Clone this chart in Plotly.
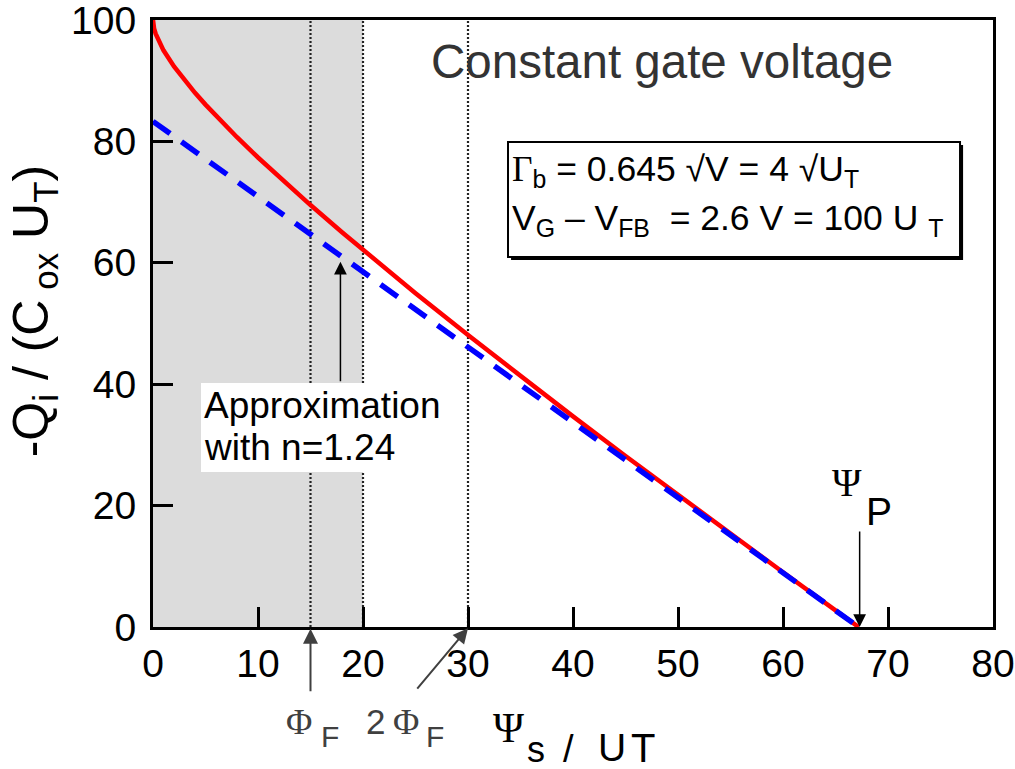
import plotly.graph_objects as go

# Inversion charge at constant gate voltage (normalised units)
psi_exact = [0, 0.05, 0.1, 0.25, 0.5, 1, 2, 3, 4, 5, 6, 8, 10, 12, 15, 18, 20,
             25, 30, 35, 40, 45, 50, 55, 60, 65, 67.2]
q_exact = [100, 99.06, 98.64, 97.75, 96.67, 95.0, 92.34, 90.07, 88.0, 86.06, 84.2,
           80.69, 77.35, 74.14, 69.51, 65.03, 62.11, 55.0, 48.09, 41.34, 34.7,
           28.17, 21.72, 15.34, 9.02, 2.75, 0.0]

# Linear approximation with slope factor n = 1.24
psi_approx = [0.0, 67.2]
q_approx = [83.3, 0.0]

x_ticks = [0, 10, 20, 30, 40, 50, 60, 70, 80]
y_ticks = [0, 20, 40, 60, 80, 100]

phi_f = 15
two_phi_f = 30
shade_end = 20
psi_p = 67.3

SANS = "Liberation Sans, Arial, sans-serif"
SERIF = "Liberation Serif, Times New Roman, serif"
GREY = "#404040"

fig = go.Figure()
fig.add_trace(go.Scatter(x=psi_exact, y=q_exact, mode="lines",
                         line=dict(color="#ff0000", width=4.5),
                         hoverinfo="skip", showlegend=False))
fig.add_trace(go.Scatter(x=psi_approx, y=q_approx, mode="lines",
                         line=dict(color="#0000ff", width=5.5, dash="21px,14px"),
                         hoverinfo="skip", showlegend=False))

shapes = [
    dict(type="rect", xref="x", yref="y", x0=0, x1=shade_end, y0=0, y1=100,
         fillcolor="#dcdcdc", line=dict(width=0), layer="below"),
]
for v in (phi_f, shade_end, two_phi_f):
    shapes.append(dict(type="line", xref="x", yref="y", x0=v, x1=v, y0=0, y1=100,
                       line=dict(color="#222222", width=2.2, dash="2px,2px"),
                       layer="below"))
# white backing behind the approximation note
shapes.append(dict(type="rect", xref="x", yref="y", x0=4.57, x1=27.33, y0=25.54, y1=40.2,
                   fillcolor="white", line=dict(width=0), layer="below"))
# parameter box with a small drop shadow
shapes.append(dict(type="rect", xref="x", yref="y", x0=34.1, x1=77.15, y0=60.47, y1=79.41,
                   fillcolor="black", line=dict(width=0), layer="below"))
shapes.append(dict(type="rect", xref="x", yref="y", x0=33.81, x1=76.86, y0=60.96, y1=79.9,
                   fillcolor="white", line=dict(color="black", width=2), layer="below"))


def label(text, x, y, size, color="black", family=SANS, xref="x", yref="y",
          xanchor="center", yanchor="middle", angle=0):
    return dict(text=text, x=x, y=y, xref=xref, yref=yref, xanchor=xanchor,
                yanchor=yanchor, showarrow=False, textangle=angle, borderpad=0,
                font=dict(size=size, color=color, family=family))


def arrow(x, y, ax, ay, color, width, size, yref="y"):
    return dict(text="", x=x, y=y, xref="x", yref=yref, ax=ax, ay=ay,
                axref="pixel", ayref="pixel", showarrow=True, arrowhead=2,
                arrowsize=size, arrowwidth=width, arrowcolor=color, standoff=0)


annotations = [
    label("Constant gate voltage", 48.48, 93.16, 47.5, color="#333333"),
    label("<span style='font-family:Liberation Serif'>Γ</span><sub>b</sub>"
          " = 0.645 √V = 4 √U<sub>T</sub>", 34.1, 75.2, 35.5, xanchor="left"),
    label("V<sub>G</sub> – V<sub>FB</sub>  = 2.6 V = 100 U <sub>T</sub>",
          34.1, 67.05, 35.5, xanchor="left"),
    label("Approximation", 4.76, 36.49, 37, xanchor="left"),
    label("with n=1.24", 4.76, 29.57, 37, xanchor="left"),
    arrow(17.85, 60.18, 0, 121, "black", 1.5, 1.7),
    label("Ψ", 66.1, 23.85, 40, family=SERIF),
    label("P", 69.1, 19.1, 39),
    arrow(psi_p, 0, 0, -97, "black", 1.5, 1.7),
    # labels under the abscissa
    arrow(phi_f, -0.003, 0, 64, GREY, 2, 1.5, yref="paper"),
    label("Φ", 13.9, -0.1557, 36, color=GREY, family=SERIF, yref="paper"),
    label("F", 16.81, -0.1796, 30, color=GREY, yref="paper"),
    arrow(two_phi_f, -0.002, -52, 62, GREY, 2, 1.5, yref="paper"),
    label("2", 21.2, -0.1557, 35, color=GREY, yref="paper"),
    label("Φ", 24.1, -0.1557, 36, color=GREY, family=SERIF, yref="paper"),
    label("F", 26.9, -0.1796, 30, color=GREY, yref="paper"),
    # axis titles
    label("Ψ", 33.81, -0.1656, 42, family=SERIF, yref="paper"),
    label("s", 36.48, -0.201, 36, yref="paper"),
    label("/", 39.57, -0.201, 38, yref="paper"),
    label("U", 43.67, -0.199, 39, yref="paper"),
    label("T", 46.71, -0.199, 40, yref="paper"),
    label("-Q<sub>i</sub> / (C<sub> ox</sub> U<sub>T</sub>)", -0.141, 0.521, 50,
          xref="paper", yref="paper", angle=-90),
]

axis_common = dict(showline=True, linecolor="black", linewidth=3, mirror=True,
                   ticks="inside", ticklen=20, tickwidth=2.5, tickcolor="black",
                   showgrid=False, zeroline=False, automargin=False,
                   ticklabeloverflow="allow",
                   tickfont=dict(family=SANS, size=39, color="black"))

fig.update_layout(
    width=1015, height=769,
    margin=dict(l=153, r=22, t=20, b=142),
    paper_bgcolor="white", plot_bgcolor="white",
    shapes=shapes, annotations=annotations,
    xaxis=dict(range=[0, 80], tickvals=x_ticks, ticklabelstandoff=0, **axis_common),
    yaxis=dict(range=[0, 100], tickvals=y_ticks, ticklabelstandoff=6, **axis_common),
)

fig.write_html("out.html")
